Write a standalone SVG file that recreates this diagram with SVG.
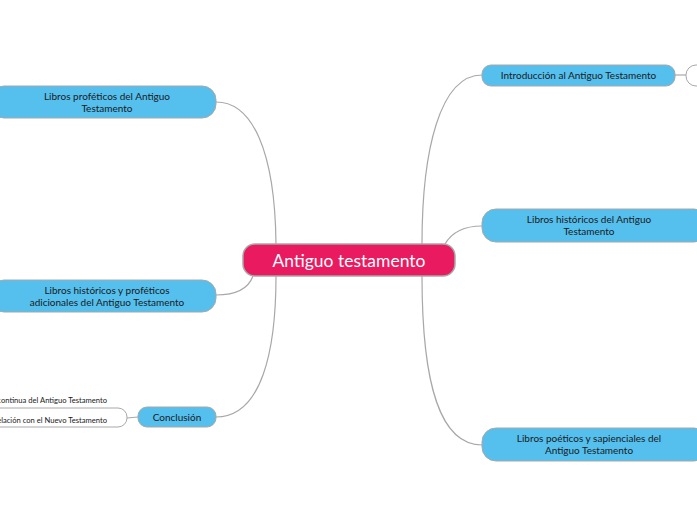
<svg xmlns="http://www.w3.org/2000/svg" width="697" height="520" viewBox="0 0 697 520">
<style>
.b{fill:#55bfee;stroke:#a8a8a8;stroke-width:1}
.w{fill:#ffffff;stroke:#a8a8a8;stroke-width:1}
.c{fill:#e91a5f;stroke:#a8a8a8;stroke-width:1.5}
.t{font-family:Lato,"Open Sans",sans-serif;font-size:10px;fill:#1a1a1a;text-anchor:middle}
.s{font-family:Lato,"Open Sans",sans-serif;font-size:7.6px;fill:#1a1a1a;text-anchor:end}
.ct{font-family:Lato,"Open Sans",sans-serif;font-size:17.5px;fill:#ffffff;text-anchor:middle}
.l{fill:none;stroke:#a8a8a8;stroke-width:1.2}
</style>
<rect width="697" height="520" fill="#ffffff"/>
<g id="connectors">
<path class="l" d="M216,102 C252,102 275,150 276,244"/>
<path class="l" d="M216,295 C238,295 249,287 253,276"/>
<path class="l" d="M216,417 C262,417 276,350 276,276"/>
<path class="l" d="M422,244 C422,150 440,75 482,75"/>
<path class="l" d="M445,244 C452,232 465,226 482,226"/>
<path class="l" d="M422,276 C422,385 440,445 482,445"/>
<path class="l" d="M675,75 L686,75"/>
<path class="l" d="M127,418 L138,417"/>
</g>
<g id="central">
<rect class="c" x="243" y="244" width="212" height="32" rx="12"/>
<text class="ct" x="349" y="266.5">Antiguo testamento</text>
</g>
<g id="n-profeticos">
<rect class="b" x="-10" y="86" width="226" height="32" rx="14"/>
<text class="t" x="107" y="100">Libros proféticos del Antiguo</text>
<text class="t" x="107" y="112">Testamento</text>
</g>
<g id="n-adicionales">
<rect class="b" x="-10" y="280" width="226" height="32" rx="14"/>
<text class="t" x="107" y="293.5">Libros históricos y proféticos</text>
<text class="t" x="107" y="305.5">adicionales del Antiguo Testamento</text>
</g>
<g id="n-conclusion">
<rect class="b" x="138" y="407" width="78" height="20" rx="9"/>
<text class="t" x="177" y="420.5">Conclusión</text>
</g>
<g id="n-conclusion-1">
<text class="s" x="107" y="403">continua del Antiguo Testamento</text>
</g>
<g id="n-conclusion-2">
<rect class="w" x="-20" y="408" width="147" height="19" rx="9"/>
<text class="s" x="107" y="422.5">relación con el Nuevo Testamento</text>
</g>
<g id="n-intro">
<rect class="b" x="482" y="65" width="193" height="21" rx="9"/>
<text class="t" x="578.5" y="79">Introducción al Antiguo Testamento</text>
</g>
<g id="n-intro-1">
<rect class="w" x="686" y="65" width="40" height="21" rx="10"/>
</g>
<g id="n-historicos">
<rect class="b" x="482" y="209" width="226" height="33" rx="14"/>
<text class="t" x="589" y="223">Libros históricos del Antiguo</text>
<text class="t" x="589" y="235">Testamento</text>
</g>
<g id="n-poeticos">
<rect class="b" x="482" y="428" width="226" height="33" rx="14"/>
<text class="t" x="589" y="442">Libros poéticos y sapienciales del</text>
<text class="t" x="589" y="454">Antiguo Testamento</text>
</g>
</svg>
